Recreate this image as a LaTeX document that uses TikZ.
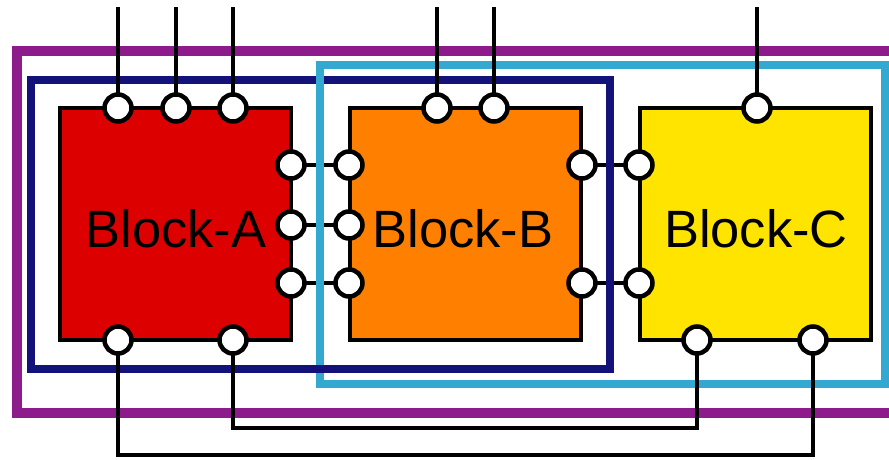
\documentclass[tikz,border=0pt]{standalone}
\usepackage{fontspec}
\setmainfont{Liberation Sans}
\pgfdeclarelayer{blocks}
\pgfdeclarelayer{links}
\pgfdeclarelayer{frames}
\pgfdeclarelayer{wires}
\pgfsetlayers{blocks,links,frames,wires,main}
\definecolor{fpurple}{HTML}{8E1B8C}
\definecolor{fnavy}{HTML}{12127A}
\definecolor{fblue}{HTML}{33A9D1}
\definecolor{bred}{HTML}{DC0000}
\definecolor{borange}{HTML}{FF8000}
\definecolor{byellow}{HTML}{FFE400}
\tikzset{
  blockbox/.style={draw=black, line width=4.5pt, minimum width=231pt, minimum height=232pt, inner sep=0pt, outer sep=0pt},
  pin/.style={circle, draw=black, fill=white, line width=4.5pt, minimum size=27pt, inner sep=0pt, outer sep=0pt},
  wire/.style={draw=black, line width=4.5pt},
  blabel/.style={anchor=base, font=\fontsize{52.5}{60}\selectfont, inner sep=0pt}
}
\begin{document}
\begin{tikzpicture}[x=1pt, y=-1pt]
\useasboundingbox (0,0) rectangle (889,460);
\clip (0,0) rectangle (889,460);
% blocks
\begin{pgfonlayer}{blocks}
\fill[white] (0,0) rectangle (889,460);
\node[blockbox, fill=bred]    (A) at (175.5,224) {};
\node[blockbox, fill=borange] (B) at (465.5,224) {};
\node[blockbox, fill=byellow] (C) at (755.5,224) {};
\end{pgfonlayer}
% labels
\node[blabel] (la) at (176,247) {Block-A};
\node[blabel] (lb) at (463,247) {Block-B};
\node[blabel] (lc) at (756,247) {Block-C};
% pins
\node[pin] (a1) at (118,108) {};
\node[pin] (a2) at (176,108) {};
\node[pin] (a3) at (233,108) {};
\node[pin] (ar1) at (291,165) {};
\node[pin] (ar2) at (291,225) {};
\node[pin] (ar3) at (291,283) {};
\node[pin] (ab1) at (118,340) {};
\node[pin] (ab2) at (233,340) {};
\node[pin] (bl1) at (349,165) {};
\node[pin] (bl2) at (349,225) {};
\node[pin] (bl3) at (349,283) {};
\node[pin] (bt1) at (437,108) {};
\node[pin] (bt2) at (494,108) {};
\node[pin] (br1) at (582,165) {};
\node[pin] (br2) at (582,283) {};
\node[pin] (cl1) at (639,165) {};
\node[pin] (cl2) at (639,283) {};
\node[pin] (ct) at (757,108) {};
\node[pin] (cb1) at (697,340) {};
\node[pin] (cb2) at (813,340) {};
% free ends
\coordinate (ta1) at (118,7);
\coordinate (ta2) at (176,7);
\coordinate (ta3) at (233,7);
\coordinate (tb1) at (437,7);
\coordinate (tb2) at (494,7);
\coordinate (tc) at (757,7);
\coordinate (w1) at (233,428);
\coordinate (w2) at (118,455);
% short links between blocks
\begin{pgfonlayer}{links}
\draw[wire] (ar1) -- (bl1);
\draw[wire] (ar2) -- (bl2);
\draw[wire] (ar3) -- (bl3);
\draw[wire] (br1) -- (cl1);
\draw[wire] (br2) -- (cl2);
\end{pgfonlayer}
% frames
\begin{pgfonlayer}{frames}
\draw[fpurple, line width=9.5pt] (17,51) rectangle (905,413);
\draw[fnavy, line width=8.5pt] (31,80) rectangle (610,369);
\draw[fblue, line width=8.5pt] (320,65) rectangle (885,384);
\draw[fnavy, line width=8.5pt] (300,369) -- (345,369);
\end{pgfonlayer}
% wires
\begin{pgfonlayer}{wires}
\draw[wire] (a1) -- (ta1);
\draw[wire] (a2) -- (ta2);
\draw[wire] (a3) -- (ta3);
\draw[wire] (bt1) -- (tb1);
\draw[wire] (bt2) -- (tb2);
\draw[wire] (ct) -- (tc);
\draw[wire] (ab2) -- (w1) -| (cb1);
\draw[wire] (ab1) -- (w2) -| (cb2);
\end{pgfonlayer}
\end{tikzpicture}
\end{document}
